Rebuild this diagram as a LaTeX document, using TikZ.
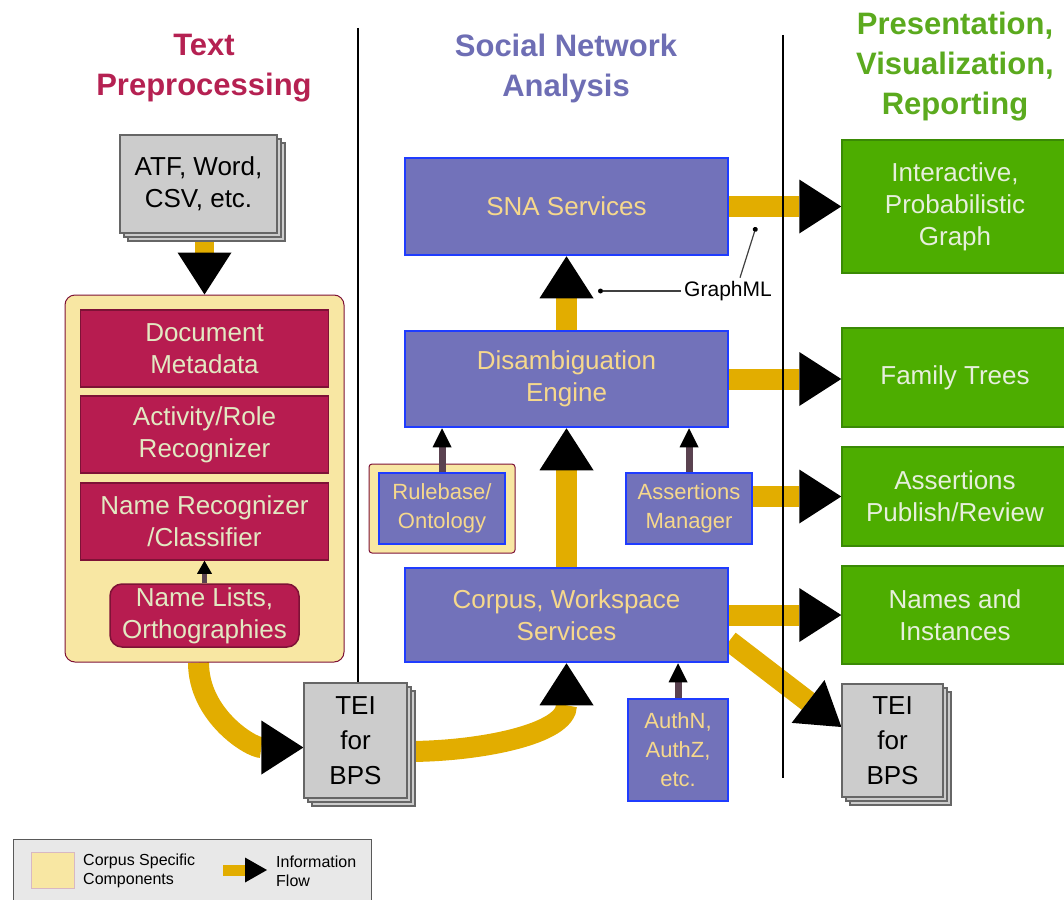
\documentclass[tikz,border=0pt]{standalone}
\usepackage{fontspec}
\setmainfont{Liberation Sans}
\usetikzlibrary{arrows.meta,shadows,backgrounds}
\definecolor{crimson}{HTML}{B71C50}
\definecolor{darkcrimson}{HTML}{7E1236}
\definecolor{crimsonhead}{HTML}{B52152}
\definecolor{palegreen}{HTML}{E2E9C2}
\definecolor{paleyellow}{HTML}{F8E7A3}
\definecolor{slate}{HTML}{7272BA}
\definecolor{slatehead}{HTML}{6E6EB4}
\definecolor{brightblue}{HTML}{1F3CFF}
\definecolor{sand}{HTML}{F6D88C}
\definecolor{leaf}{HTML}{4DAD00}
\definecolor{darkleaf}{HTML}{3A8A05}
\definecolor{leafhead}{HTML}{5BAA1E}
\definecolor{leaftext}{HTML}{E6EFDC}
\definecolor{gold}{HTML}{E2AD00}
\definecolor{stem}{HTML}{5A4250}
\definecolor{paper}{HTML}{CCCCCC}
\newcommand{\hdfont}{\fontsize{31}{40}\selectfont\bfseries}
\newcommand{\bxfont}{\fontsize{26}{32}\selectfont}
\newcommand{\tfont}{\fontsize{26}{35}\selectfont}
\newcommand{\smfont}{\fontsize{22}{29}\selectfont}
\newcommand{\gmfont}{\fontsize{21}{25}\selectfont}
\newcommand{\lgfont}{\fontsize{16}{19}\selectfont}

\begin{document}
\begin{tikzpicture}[x=1pt,y=-1pt]
  \tikzset{heading/.style={align=center,font=\hdfont}}
  \tikzset{divider/.style={draw=black,line width=2.5pt}}
  \tikzset{docs/.style={draw=black!60,fill=paper,line width=1.2pt,align=center,font=\bxfont,inner sep=0pt,
      copy shadow={shadow xshift=8pt,shadow yshift=-8pt,fill=paper,draw=black!60},
      copy shadow={shadow xshift=4pt,shadow yshift=-4pt,fill=paper,draw=black!60}}}
  \tikzset{container/.style={draw=darkcrimson,fill=paleyellow,rounded corners=10pt,line width=1pt,inner sep=0pt}}
  \tikzset{stepbox/.style={draw=darkcrimson,fill=crimson,text=palegreen,line width=1.5pt,align=center,font=\bxfont,inner sep=0pt,minimum width=248pt,minimum height=77pt}}
  \tikzset{service/.style={draw=brightblue,fill=slate,text=sand,line width=2.5pt,align=center,font=\bxfont,inner sep=0pt,minimum width=323pt}}
  \tikzset{module/.style={draw=brightblue,fill=slate,text=sand,line width=2pt,align=center,font=\smfont,inner sep=0pt,minimum height=71pt}}
  \tikzset{output/.style={draw=darkleaf,fill=leaf,text=leaftext,line width=1.5pt,align=center,font=\bxfont,inner sep=0pt,minimum width=226pt}}
  \tikzset{flow/.style={draw=gold,line width=21pt,-{Triangle[length=42pt,width=54pt,line width=0pt,color=black,fill=black]}}}
  \tikzset{feed/.style={draw=stem,line width=7pt,-{Triangle[length=19pt,width=19pt,line width=0pt,color=black,fill=black]}}}
  \tikzset{note/.style={draw=black!75,line width=1.2pt,-{Circle[length=5pt,line width=0pt,color=black,fill=black]}}}
  \tikzset{keytext/.style={anchor=west,align=left,font=\lgfont,inner sep=0pt}}
  \useasboundingbox (0,0) rectangle (1064,899);

  % column headings
  \node[heading,text=crimsonhead] (prephead) at (204,68) {Text\\Preprocessing};
  \node[heading,text=slatehead] (snahead) at (566,68) {Social Network\\Analysis};
  \node[heading,text=leafhead] (pvrhead) at (955,67) {Presentation,\\Visualization,\\Reporting};
  \draw[divider] (358,28) -- (358,683);
  \draw[divider] (783,35) -- (783,778);

  % text preprocessing
  \node[docs,minimum width=157pt,minimum height=98pt] (atf) at (198.5,184) {ATF, Word,\\CSV, etc.};
  \node[container,minimum width=279pt,minimum height=367pt] (prepbox) at (204.5,478.5) {};
  \node[stepbox] (docmeta) at (204.5,348.5) {Document\\Metadata};
  \node[stepbox] (rolerec) at (204.5,434.5) {Activity/Role\\Recognizer};
  \node[stepbox] (namerec) at (204.5,521.5) {Name Recognizer\\/Classifier};
  \node[stepbox,rounded corners=12pt,minimum width=189pt,minimum height=63pt] (namelists) at (204.5,615.5) {Name Lists,\\Orthographies};
  \node[docs,font=\tfont,minimum width=103pt,minimum height=115pt] (teiin) at (355.5,740.5) {TEI\\for\\BPS};

  % social network analysis
  \node[service,minimum height=97pt] (sna) at (566.5,206.5) {SNA Services};
  \node[service,minimum height=96pt] (disamb) at (566.5,379) {Disambiguation\\Engine};
  \node[service,minimum height=94pt] (corpus) at (566.5,615) {Corpus, Workspace\\Services};
  \node[container,rounded corners=3pt,minimum width=146pt,minimum height=89pt] (rulebox) at (442,508.5) {};
  \node[module,minimum width=126pt] (rulebase) at (442,508.5) {Rulebase/\\Ontology};
  \node[module,minimum width=126pt] (assertmgr) at (689,508.5) {Assertions\\Manager};
  \node[module,minimum width=100pt,minimum height=102pt] (auth) at (678,750) {AuthN,\\AuthZ,\\etc.};

  % presentation
  \node[output,minimum height=133pt] (graph) at (955,206.5) {Interactive,\\Probabilistic\\Graph};
  \node[output,minimum height=99pt] (trees) at (955,377.5) {Family Trees};
  \node[output,minimum height=99pt] (review) at (955,496.5) {Assertions\\Publish/Review};
  \node[output,minimum height=98pt] (names) at (955,615) {Names and\\Instances};
  \node[docs,font=\tfont,minimum width=101pt,minimum height=113pt] (teiout) at (892.5,740.5) {TEI\\for\\BPS};

  % information flow
  \begin{scope}[on background layer]
    \draw[flow,line width=19pt] (atf.south -| prepbox.north) -- (prepbox.north);
    \draw[flow] ([xshift=-6pt]prepbox.south) to[out=-90,in=180] ([yshift=-7pt]teiin.west);
    \draw[flow] ([yshift=-11pt]teiin.east) to[out=0,in=-90] (corpus.south);
    \draw[flow] (corpus) -- (disamb);
    \draw[flow] (disamb) -- (sna);
    \draw[flow] (sna) -- (graph);
    \draw[flow] (disamb.east) -- (disamb.east -| trees.west);
    \draw[flow] (assertmgr.east |- review.west) -- (review.west);
    \draw[flow] (corpus) -- (names);
    \draw[flow] ([yshift=-26pt]corpus.east) -- ([yshift=13.5pt]teiout.west);
  \end{scope}
  \draw[feed,line width=5pt,-{Triangle[length=13pt,width=15pt,line width=0pt,color=black,fill=black]}] (namelists.north) -- (namerec.south);
  \draw[feed] (rulebase.north) -- (rulebase.north |- disamb.south);
  \draw[feed] (assertmgr.north) -- (assertmgr.north |- disamb.south);
  \draw[feed] (auth.north) -- (auth.north |- corpus.south);

  % graphml note
  \node[font=\gmfont] (graphml) at (728,291) {GraphML};
  \coordinate (gmltip) at (598,291);
  \coordinate (gmlbar) at (756,227);
  \draw[note] (graphml.west) -- (gmltip);
  \draw[note] ([xshift=12pt]graphml.north) -- (gmlbar);

  % legend
  \node[draw=black!65,fill=black!9,line width=1pt,minimum width=358pt,minimum height=70pt] (key) at (192,874) {};
  \node[draw=darkcrimson!30,fill=paleyellow,minimum width=43pt,minimum height=36pt,inner sep=0pt] (keyswatch) at (52.5,870) {};
  \node[keytext] (keycorpus) at (83,871) {Corpus Specific\\Components};
  \coordinate (keyfrom) at (223,870);
  \coordinate (keyto) at (267,870);
  \draw[flow,line width=11pt,-{Triangle[length=22pt,width=25pt,line width=0pt,color=black,fill=black]}] (keyfrom) -- (keyto);
  \node[keytext] (keyflow) at (276,871) {Information\\Flow};
\end{tikzpicture}
\end{document}
